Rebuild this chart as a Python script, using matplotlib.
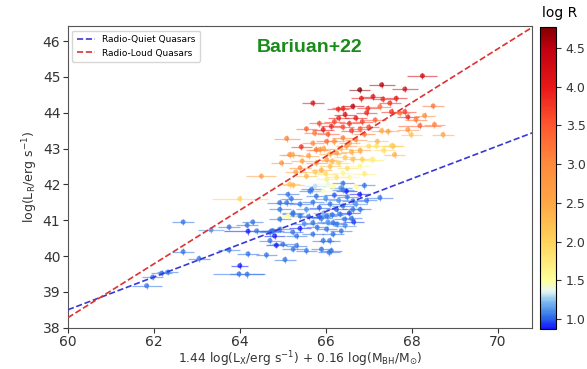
import numpy as np
import matplotlib.pyplot as plt
from matplotlib.colors import LinearSegmentedColormap, Normalize
from matplotlib.cm import ScalarMappable

# radio-quiet sources (mostly blue)
rq_x = [61.83, 61.97, 62.18, 62.32, 62.68, 62.68, 63.05, 63.33, 63.75, 63.75,
        64.00, 63.98, 64.17, 64.17, 64.30, 64.19, 64.19, 64.62, 65.05, 64.85,
        65.24, 64.77, 64.93, 64.70, 65.23, 64.93, 65.23, 64.93, 64.93, 65.12,
        64.39, 64.81, 64.70, 65.00, 65.32, 65.70, 66.02, 66.09, 65.55, 65.90,
        66.08, 65.32, 65.40, 65.40, 65.24, 65.63, 65.78, 65.12, 65.94, 65.40,
        65.09, 66.02, 66.33, 66.63, 65.70, 66.17, 66.40, 66.90, 66.48, 66.79,
        67.26, 66.63, 66.40, 66.44, 66.25, 66.36, 66.17, 66.13, 65.94, 65.67,
        64.74, 65.55, 65.70, 65.85, 66.00, 66.10, 66.20, 66.30, 66.50, 66.55,
        66.70, 65.90, 66.05, 66.25, 65.60, 65.80, 66.45, 66.60, 65.95, 66.15,
        66.35, 66.80, 65.75, 66.05, 65.20, 65.85, 66.65, 66.95, 65.50, 66.40]
rq_y = [39.17, 39.41, 39.52, 39.55, 40.12, 40.95, 39.93, 40.73, 40.81, 40.17,
        39.73, 39.50, 39.49, 40.86, 40.95, 40.69, 40.06, 40.03, 39.90, 40.30,
        40.19, 40.70, 40.75, 40.66, 40.67, 41.03, 41.17, 41.30, 41.49, 41.72,
        40.70, 40.56, 40.43, 40.33, 40.56, 40.61, 40.75, 40.43, 40.15, 40.19,
        40.10, 40.29, 40.77, 41.12, 41.21, 41.81, 41.67, 41.13, 41.81, 41.45,
        41.49, 41.12, 41.17, 41.30, 40.93, 40.93, 42.03, 41.97, 41.81, 41.72,
        41.63, 41.54, 41.40, 41.03, 40.89, 40.70, 40.61, 40.15, 40.43, 41.86,
        40.70, 41.30, 41.50, 41.35, 41.60, 41.45, 41.70, 41.55, 41.65, 41.20,
        41.45, 41.05, 40.95, 41.30, 41.10, 40.80, 40.85, 41.05, 41.20, 41.15,
        41.90, 41.30, 41.95, 42.00, 41.60, 41.10, 40.95, 41.55, 40.90, 41.85]
rq_logr = [1.05, 1.05, 1.05, 1.05, 1.05, 1.05, 1.05, 1.10, 1.05, 1.05,
           0.90, 1.05, 1.05, 1.05, 1.05, 0.90, 1.05, 1.05, 1.05, 0.90,
           1.05, 1.05, 1.05, 1.05, 1.05, 1.05, 1.05, 1.05, 1.05, 1.05,
           1.05, 0.90, 1.05, 1.05, 1.05, 1.05, 1.05, 1.05, 1.05, 1.05,
           1.05, 1.05, 0.90, 1.05, 1.05, 1.05, 1.05, 1.50, 1.45, 1.05,
           1.05, 1.05, 1.05, 1.05, 1.05, 1.05, 1.05, 1.05, 0.90, 0.90,
           1.05, 1.05, 1.05, 1.05, 1.05, 1.05, 1.05, 1.05, 1.05, 1.05,
           1.05, 1.10, 1.05, 1.00, 1.10, 1.05, 1.00, 1.10, 1.05, 0.95,
           1.10, 1.05, 1.10, 1.00, 1.05, 1.05, 1.10, 1.05, 1.20, 1.05,
           1.10, 1.05, 1.30, 1.40, 1.05, 1.00, 0.95, 1.05, 1.10, 1.05]
rq_xerr = [0.35, 0.25, 0.25, 0.25, 0.25, 0.25, 0.25, 0.30, 0.25, 0.25,
           0.20, 0.60, 0.40, 0.25, 0.25, 0.55, 0.25, 0.25, 0.25, 0.25,
           0.25, 0.25, 0.25, 0.25, 0.25, 0.25, 0.25, 0.25, 0.30, 0.25,
           0.25, 0.25, 0.25, 0.25, 0.25, 0.25, 0.25, 0.25, 0.25, 0.25,
           0.25, 0.25, 0.25, 0.25, 0.25, 0.25, 0.25, 0.25, 0.25, 0.25,
           0.25, 0.25, 0.25, 0.25, 0.25, 0.25, 0.25, 0.25, 0.25, 0.25,
           0.30, 0.25, 0.25, 0.25, 0.25, 0.25, 0.25, 0.25, 0.25, 0.25,
           0.25, 0.25, 0.25, 0.25, 0.25, 0.25, 0.25, 0.25, 0.25, 0.25,
           0.25, 0.25, 0.25, 0.25, 0.25, 0.25, 0.25, 0.25, 0.25, 0.25,
           0.25, 0.25, 0.25, 0.25, 0.25, 0.25, 0.25, 0.25, 0.25, 0.25]

# radio-loud sources (yellow to dark red)
rl_x = [68.25, 66.79, 67.30, 67.84, 65.70, 66.29, 66.83, 67.10, 67.33, 67.64,
        66.40, 66.63, 66.98, 67.53, 68.50, 68.30, 67.91, 67.84, 68.53, 68.19,
        68.73, 67.91, 67.99, 67.57, 67.60, 68.10, 65.09, 65.43, 66.13, 65.94,
        65.74, 64.97, 64.50, 66.02, 65.78, 67.26, 67.49, 67.72, 67.45, 67.30,
        67.53, 67.18, 67.06, 66.30, 66.45, 66.55, 66.70, 66.85, 66.95, 66.40,
        66.60, 66.80, 67.00, 67.15, 66.20, 65.16, 65.40, 65.78, 65.55, 65.16,
        66.02, 66.40, 66.79, 67.10, 66.25, 66.48, 65.86, 66.02, 66.63, 67.00,
        66.17, 66.71, 65.24, 65.60, 65.90, 66.10, 66.30, 66.50, 66.60, 66.80,
        66.90, 66.20, 66.40, 66.70, 66.90, 65.70, 65.95, 66.10, 66.35, 66.55,
        66.00, 66.25, 66.55, 65.75, 65.45, 65.30, 67.20, 67.35, 66.85, 66.45,
        66.15, 65.85, 66.05, 65.55, 65.23, 64.00]
rl_y = [45.03, 44.64, 44.78, 44.66, 44.27, 44.10, 44.40, 44.45, 44.38, 44.40,
        44.12, 44.18, 44.12, 44.03, 44.19, 43.92, 43.88, 44.03, 43.67, 43.64,
        43.39, 43.53, 43.39, 43.07, 42.83, 43.81, 43.28, 43.05, 43.62, 43.53,
        43.43, 42.60, 42.23, 43.20, 42.97, 44.17, 44.27, 43.99, 43.48, 43.50,
        43.08, 43.07, 42.69, 43.85, 43.95, 43.70, 43.85, 43.75, 44.00, 43.60,
        43.50, 43.55, 43.60, 43.80, 43.75, 42.83, 42.46, 42.60, 42.23, 42.00,
        42.14, 42.32, 42.51, 42.69, 42.88, 43.07, 42.97, 42.69, 42.70, 43.07,
        41.94, 41.94, 41.98, 42.80, 42.40, 42.50, 42.60, 42.45, 42.90, 42.95,
        42.30, 43.20, 43.30, 43.25, 43.40, 43.15, 43.00, 42.85, 43.00, 43.15,
        42.30, 42.20, 42.20, 42.35, 42.65, 42.35, 43.20, 42.95, 42.70, 42.75,
        42.65, 43.70, 43.40, 43.55, 42.83, 41.60]
rl_logr = [4.30, 4.75, 4.50, 4.20, 4.10, 3.90, 4.00, 4.10, 3.90, 4.00,
           3.90, 4.50, 3.80, 3.80, 3.20, 3.00, 3.90, 3.70, 3.10, 3.40,
           2.50, 2.80, 2.20, 2.20, 2.40, 3.20, 3.10, 3.80, 3.90, 4.00,
           3.20, 2.90, 2.60, 3.30, 3.20, 3.30, 3.80, 3.20, 2.60, 2.50,
           2.00, 1.80, 1.60, 3.90, 4.20, 3.80, 4.00, 3.70, 3.90, 3.60,
           3.70, 3.50, 3.60, 3.40, 3.70, 3.00, 2.90, 2.80, 2.30, 2.20,
           1.70, 1.60, 1.60, 1.70, 2.70, 2.80, 2.90, 2.60, 2.20, 1.90,
           1.50, 1.50, 2.30, 2.70, 2.40, 2.20, 2.00, 1.90, 2.40, 2.50,
           1.70, 2.90, 3.10, 3.00, 3.20, 3.00, 2.60, 2.40, 2.30, 2.70,
           1.90, 1.80, 1.60, 2.10, 2.60, 2.50, 2.30, 1.90, 2.00, 2.10,
           2.30, 3.60, 3.50, 3.40, 2.50, 2.00]
rl_xerr = [0.35, 0.25, 0.30, 0.30, 0.25, 0.25, 0.25, 0.25, 0.25, 0.25,
           0.25, 0.25, 0.25, 0.25, 0.25, 0.25, 0.25, 0.25, 0.25, 0.50,
           0.25, 0.25, 0.25, 0.25, 0.25, 0.25, 0.30, 0.25, 0.25, 0.25,
           0.25, 0.25, 0.35, 0.25, 0.25, 0.25, 0.25, 0.25, 0.25, 0.25,
           0.25, 0.25, 0.25, 0.25, 0.25, 0.25, 0.25, 0.25, 0.25, 0.25,
           0.25, 0.25, 0.25, 0.25, 0.25, 0.25, 0.25, 0.25, 0.25, 0.25,
           0.25, 0.25, 0.25, 0.25, 0.25, 0.25, 0.25, 0.25, 0.25, 0.25,
           0.25, 0.25, 0.25, 0.25, 0.25, 0.25, 0.25, 0.25, 0.25, 0.25,
           0.25, 0.25, 0.25, 0.25, 0.25, 0.25, 0.25, 0.25, 0.25, 0.25,
           0.25, 0.25, 0.25, 0.25, 0.25, 0.25, 0.25, 0.25, 0.25, 0.25,
           0.25, 0.25, 0.25, 0.25, 0.25, 0.65]
yerr_default = 0.09

# fundamental-plane fits: y = icpt + slope * (x - 60)
rq_slope, rq_icpt = 0.457, 38.50
rl_slope, rl_icpt = 0.750, 38.28

x = np.array(rq_x + rl_x)
y = np.array(rq_y + rl_y)
logr = np.array(rq_logr + rl_logr)
xerr = np.array(rq_xerr + rl_xerr)
yerr = np.full(len(x), yerr_default)

cmap = LinearSegmentedColormap.from_list('logr', [
    (0.00, '#1414ff'), (0.04, '#3070e8'), (0.09, '#80bcf0'),
    (0.125, '#e6f8f2'), (0.16, '#ffff9a'), (0.29, '#ffd35a'),
    (0.42, '#ffa646'), (0.55, '#ff8a3c'), (0.68, '#ff5530'),
    (0.80, '#e81818'), (0.93, '#c00010'), (1.00, '#800000')])
norm = Normalize(0.87, 4.77)
colors = cmap(norm(logr))

fig = plt.figure(figsize=(5.87, 3.69), dpi=100)
ax = fig.add_axes([0.1158, 0.112, 0.7905, 0.8175])
cax = fig.add_axes([0.920, 0.108, 0.027, 0.819])

eb = ax.errorbar(x, y, xerr=xerr, yerr=yerr, fmt='none', elinewidth=0.9)
for coll in eb[2]:
    coll.set_color(colors)
    coll.set_alpha(0.55)
ax.scatter(x, y, c=colors, s=13, alpha=0.75, edgecolors='none', zorder=3)

xx = np.array([60, 70.8])
ax.plot(xx, rq_icpt + rq_slope * (xx - 60), '--', color='#3838d8', lw=1.2,
        label='Radio-Quiet Quasars', zorder=4)
ax.plot(xx, rl_icpt + rl_slope * (xx - 60), '--', color='#e03030', lw=1.2,
        label='Radio-Loud Quasars', zorder=4)

ax.set_xlim(60, 70.8)
ax.set_ylim(38, 46.42)
ax.set_xticks([60, 62, 64, 66, 68, 70])
ax.set_yticks([38, 39, 40, 41, 42, 43, 44, 45, 46])
ax.tick_params(labelsize=10, colors='#333333', pad=2)
for s in ax.spines.values():
    s.set_color('#555555')
ax.set_xlabel(r'1.44 log(L$_{\rm X}$/erg s$^{-1}$) + 0.16 log(M$_{\rm BH}$/M$_{\odot}$)',
              fontsize=8.8, color='#333333', labelpad=0)
ax.set_ylabel(r'log(L$_{\rm R}$/erg s$^{-1}$)', fontsize=9, color='#333333',
              labelpad=2)
ax.legend(loc='upper left', fontsize=6.5, handlelength=2.0, borderpad=0.5)

ax.text(0.52, 0.93, 'Bariuan+22', transform=ax.transAxes, color='#1a8c1a',
        fontweight='bold', fontsize=14, ha='center', va='center',
        family='Liberation Sans')

cb = fig.colorbar(ScalarMappable(norm=norm, cmap=cmap), cax=cax)
cb.set_ticks([1.0, 1.5, 2.0, 2.5, 3.0, 3.5, 4.0, 4.5])
cb.ax.tick_params(labelsize=9, colors='#333333')
fig.text(0.953, 0.965, 'log R', ha='center', va='center', fontsize=10)

fig.savefig('out.png', dpi=100)
